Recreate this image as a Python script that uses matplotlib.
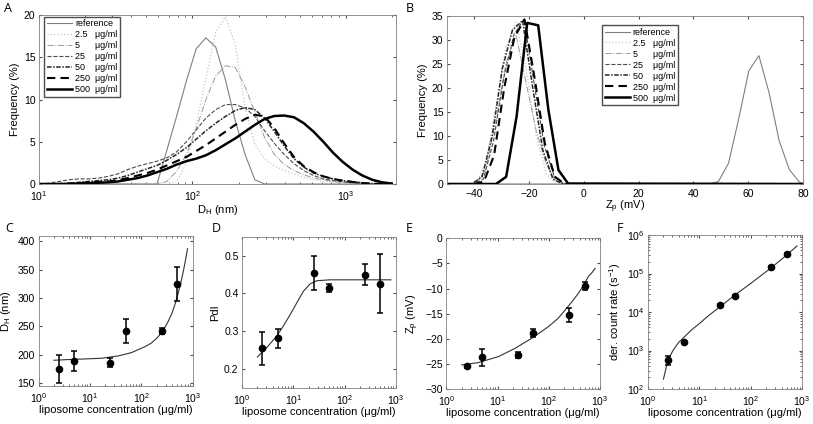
import numpy as np
import matplotlib
matplotlib.use("Agg")
import matplotlib.pyplot as plt

plt.rcParams['font.family'] = ['Liberation Sans', 'DejaVu Sans']
plt.rcParams['mathtext.default'] = 'regular'
plt.rcParams['font.size'] = 8

# [1] A: size distributions (DLS bins, nm)
d_bins = [10.1, 11.7, 13.5, 15.7, 18.2, 21.0, 24.4, 28.2, 32.7, 37.8, 43.8, 50.7, 58.8,
          68.1, 78.8, 91.3, 105.7, 122.4, 141.8, 164.2, 190.1, 220.2, 255.0, 295.3,
          342.0, 396.1, 458.7, 531.2, 615.1, 712.4, 825.0, 955.4, 1106, 1281, 1484,
          1718, 1990]
size_ref = [0, 0, 0, 0, 0, 0, 0, 0, 0, 0, 0, 0, 0,
            4.0, 8.0, 12.2, 16.0, 17.3, 16.2, 12.3, 7.5, 3.5, 0.5, 0,
            0, 0, 0, 0, 0, 0, 0, 0, 0, 0, 0, 0, 0]
size_2_5 = [0, 0, 0, 0, 0, 0, 0, 0, 0, 0, 0, 0, 0,
            0, 0.2, 2.5, 7.0, 12.5, 18.0, 19.8, 16.5, 9.0, 4.7, 3.0,
            2.1, 1.6, 1.2, 0.8, 0.5, 0.3, 0.2, 0.1, 0, 0, 0, 0, 0]
size_5 = [0, 0, 0, 0, 0, 0, 0, 0, 0, 0, 0, 0, 0,
          0.3, 1.5, 3.5, 6.5, 10.0, 12.8, 14.0, 13.8, 11.5, 8.5, 5.5,
          3.5, 2.3, 1.6, 1.1, 0.7, 0.5, 0.3, 0.2, 0.1, 0, 0, 0, 0]
size_25 = [0, 0.1, 0.3, 0.5, 0.6, 0.6, 0.7, 0.9, 1.2, 1.7, 2.1, 2.4, 2.7,
           3.1, 3.8, 5.0, 6.4, 7.8, 8.8, 9.4, 9.4, 9.0, 8.0, 6.3,
           4.8, 3.5, 2.4, 1.6, 1.0, 0.6, 0.4, 0.25, 0.15, 0.05, 0, 0, 0]
size_50 = [0, 0, 0.05, 0.1, 0.2, 0.3, 0.4, 0.5, 0.7, 1.0, 1.4, 1.8, 2.2,
           2.8, 3.5, 4.3, 5.3, 6.3, 7.2, 8.0, 8.7, 9.05, 8.8, 7.8,
           6.2, 4.5, 3.0, 2.0, 1.3, 0.9, 0.6, 0.4, 0.25, 0.15, 0.05, 0, 0]
size_250 = [0, 0, 0, 0.05, 0.1, 0.2, 0.25, 0.3, 0.45, 0.7, 1.0, 1.3, 1.7,
            2.2, 2.7, 3.2, 3.9, 4.6, 5.4, 6.2, 7.0, 7.7, 8.2, 8.0,
            6.6, 4.8, 3.2, 2.1, 1.4, 0.9, 0.6, 0.4, 0.25, 0.1, 0.05, 0, 0]
size_500 = [0, 0, 0, 0, 0.05, 0.1, 0.15, 0.2, 0.3, 0.5, 0.7, 1.0, 1.4,
            1.8, 2.3, 2.7, 3.0, 3.4, 4.0, 4.7, 5.4, 6.2, 7.0, 7.7,
            8.05, 8.1, 7.9, 7.2, 6.2, 5.0, 3.7, 2.6, 1.7, 1.0, 0.5, 0.2, 0.05]

# [2] B: zeta potential distributions (mV)
z_ref = [-50, 41.7, 45.4, 49.1, 52.8, 56.5, 60.2, 63.9, 67.6, 71.3, 75.0, 78.7, 80]
f_ref = [0, 0, 0, 0.5, 4.3, 13.5, 23.5, 26.7, 19.0, 9.0, 3.0, 0.4, 0]
z_2_5 = [-50, -39.6, -35.9, -32.2, -28.5, -24.8, -21.1, -17.4, -13.7, -10.0, 80]
f_2_5 = [0, 0, 4.0, 16.0, 28.5, 33.7, 24.0, 10.0, 2.0, 0, 0]
z_5 = [-50, -39.6, -35.9, -32.2, -28.5, -24.8, -21.1, -17.4, -13.7, -10.0, -6.3, 80]
f_5 = [0, 0, 3.0, 13.0, 25.0, 31.0, 21.0, 11.0, 4.0, 0.5, 0, 0]
z_25 = [-50, -40.4, -36.7, -33.0, -29.3, -25.6, -21.9, -18.2, -14.5, -10.8, -7.1, 80]
f_25 = [0, 0, 1.0, 9.0, 22.0, 31.0, 34.3, 21.0, 8.0, 1.5, 0, 0]
z_50 = [-50, -40.9, -37.2, -33.5, -29.8, -26.1, -22.4, -18.7, -15.0, -11.3, -7.6, 80]
f_50 = [0, 0, 1.5, 10.0, 24.0, 32.0, 34.0, 20.0, 7.0, 1.0, 0, 0]
z_250 = [-50, -40.2, -36.5, -32.8, -29.1, -25.4, -21.7, -18.0, -14.3, -10.6, -6.9, 80]
f_250 = [0, 0, 0.5, 6.0, 20.0, 30.5, 34.2, 22.0, 8.5, 1.5, 0, 0]
z_500 = [-50, -35.8, -32.1, -28.4, -24.6, -20.7, -16.7, -13.0, -9.3, -5.8, 80]
f_500 = [0, 0, 0, 1.5, 14.0, 33.5, 33.0, 15.5, 2.9, 0.1, 0]

# [3] C-F: values vs liposome concentration
conc = [2.5, 5, 25, 50, 250, 500]
dh_mean = [175, 189, 186, 242, 242, 325]
dh_err = [24, 17.5, 8, 21, 5, 29.5]
pdi_mean = [0.255, 0.281, 0.454, 0.414, 0.449, 0.426]
pdi_err = [0.043, 0.025, 0.045, 0.010, 0.028, 0.079]
zp_mean = [-25.5, -23.7, -23.2, -18.9, -15.2, -9.4]
zp_err = [0.3, 1.7, 0.6, 0.8, 1.4, 0.8]
cr_mean = [566, 1630, 15200, 26500, 150000, 320000]
cr_err = [140, 60, 600, 1200, 7000, 15000]

# fitted curves
fit_dh_x = [2.0, 3.8, 8.0, 17, 35.8, 65, 119, 160, 210, 260, 320, 393, 460, 529, 600, 662, 730, 800]
fit_dh_y = [190.4, 191.6, 192.7, 193.9, 198, 203.9, 214.4, 221, 231, 241, 255, 272, 290,
            309, 329, 347, 367, 387]
fit_pdi_x = [2.0, 3.04, 4.77, 6.4, 8.7, 11.7, 15.7, 21.2, 28.7, 52, 100, 800]
fit_pdi_y = [0.232, 0.257, 0.2875, 0.314, 0.344, 0.375, 0.4056, 0.4249, 0.4336, 0.436, 0.436, 0.436]
fit_zp_x = [2.0, 4.2, 10.4, 22, 46.5, 98, 150, 208, 280, 379, 480, 593, 700, 800]
fit_zp_y = [-25.2, -24.75, -23.55, -21.9, -19.9, -17.6, -16.0, -14.3, -12.7, -10.95, -9.3,
            -7.6, -6.8, -6.0]
fit_cr_x = [2.0, 2.3, 2.6, 3.0, 3.5, 4.0, 5.0, 7.0, 10, 15, 25, 50, 100, 250, 500, 800]
fit_cr_y = [180, 400, 650, 950, 1300, 1650, 2200, 3400, 5000, 8000, 13500, 28000, 55000,
            140000, 300000, 520000]

legend_labels = ['reference', '2.5   μg/ml', '5      μg/ml', '25    μg/ml',
                 '50    μg/ml', '250  μg/ml', '500  μg/ml']
styles = [dict(color='0.5', ls='-', lw=0.8),
          dict(color='0.78', ls=':', lw=0.9),
          dict(color='0.6', ls='-.', lw=0.7),
          dict(color='0.3', ls='--', lw=0.8),
          dict(color='0.15', ls=(0, (3, 1, 1, 1)), lw=1.1),
          dict(color='k', ls=(0, (4, 2.5)), lw=1.5),
          dict(color='k', ls='-', lw=1.8)]

W, H = 813, 424
fig = plt.figure(figsize=(W / 100, H / 100), dpi=100)


def box(l, r, t, b):
    return fig.add_axes([l / W, 1 - b / H, (r - l) / W, (b - t) / H])


def style_ax(ax):
    ax.tick_params(which='both', direction='in', top=True, right=True,
                   color='0.3', labelsize=7.5, pad=2.5)
    ax.tick_params(which='major', length=2.5)
    ax.tick_params(which='minor', length=1.5)
    for s in ax.spines.values():
        s.set_color('0.5')
        s.set_linewidth(0.6)


def letter(x, y, s):
    fig.text(x / W, 1 - y / H, s, fontsize=9, family=['Open Sans', 'DejaVu Sans'],
             va='top', ha='left')


# [4] panel A
axA = box(39, 396, 15, 184)
size_series = [size_ref, size_2_5, size_5, size_25, size_50, size_250, size_500]
for y, st, lab in zip(size_series, styles, legend_labels):
    axA.plot(d_bins, y, label=lab, **st)
axA.set_xscale('log')
axA.set_xlim(10, 2120)
axA.set_ylim(0, 20)
axA.set_yticks([0, 5, 10, 15, 20])
axA.set_xlabel('D$_H$ (nm)', labelpad=0)
axA.set_ylabel('Frequency (%)', labelpad=3)
style_ax(axA)
axA.legend(loc='upper left', bbox_to_anchor=(0.015, 0.99), fontsize=6.5, fancybox=False,
           edgecolor='0.3', framealpha=1, handlelength=2.8, labelspacing=0.22,
           borderpad=0.3, handletextpad=0.3, borderaxespad=0)

# [5] panel B
axB = box(447, 803, 15.7, 184)
zeta_series = [(z_ref, f_ref), (z_2_5, f_2_5), (z_5, f_5), (z_25, f_25),
               (z_50, f_50), (z_250, f_250), (z_500, f_500)]
for (x, y), st, lab in zip(zeta_series, styles, legend_labels):
    axB.plot(x, y, label=lab, **st)
axB.set_xlim(-50, 80)
axB.set_ylim(0, 35)
axB.set_xticks([-40, -20, 0, 20, 40, 60, 80])
axB.set_yticks(range(0, 36, 5))
axB.set_xlabel('Z$_p$ (mV)', labelpad=0)
axB.set_ylabel('Frequency (%)', labelpad=3)
style_ax(axB)
axB.legend(loc='upper left', bbox_to_anchor=(0.435, 0.945), fontsize=6.5, fancybox=False,
           edgecolor='0.3', framealpha=1, handlelength=2.8, labelspacing=0.22,
           borderpad=0.3, handletextpad=0.3, borderaxespad=0)

# [6] panels C-F
xlab = 'liposome concentration (μg/ml)'
bottom = [
    (38.5, 192.5, 235.7, 386, dh_mean, dh_err, fit_dh_x, fit_dh_y, 'D$_H$ (nm)', (145, 410), False),
    (242, 395.8, 236.7, 388, pdi_mean, pdi_err, fit_pdi_x, fit_pdi_y, 'PdI', (0.15, 0.55), False),
    (446.3, 600, 238.3, 389, zp_mean, zp_err, fit_zp_x, fit_zp_y, 'Z$_p$ (mV)', (-30, 0), False),
    (648, 802, 235, 389, cr_mean, cr_err, fit_cr_x, fit_cr_y, 'der. count rate (s$^{-1}$)', (1e2, 1e6), True),
]
for l, r, t, b, m, e, fx, fy, ylab, ylim, logy in bottom:
    ax = box(l, r, t, b)
    ax.plot(fx, fy, color='0.2', lw=0.8)
    ax.errorbar(conc, m, yerr=e, fmt='o', color='k', ms=4.5, elinewidth=1.1,
                capsize=2, capthick=1.1)
    ax.set_xscale('log')
    if logy:
        ax.set_yscale('log')
        ax.set_yticks([1e2, 1e3, 1e4, 1e5, 1e6])
    ax.set_xlim(1, 1000)
    ax.set_ylim(*ylim)
    ax.set_xticks([1, 10, 100, 1000])
    ax.set_xlabel(xlab, labelpad=0)
    ax.set_ylabel(ylab, labelpad=3)
    style_ax(ax)
    ax.tick_params(axis='x', pad=3.5)
    if ylab == 'PdI':
        ax.set_yticks([0.2, 0.3, 0.4, 0.5])
    if ylab == 'D$_H$ (nm)':
        ax.set_yticks(range(150, 401, 50))

axA.tick_params(axis='x', pad=3.5)
axB.tick_params(axis='x', pad=3.5)

letter(4, 2, 'A')
letter(406, 2, 'B')
letter(5, 222, 'C')
letter(212, 222, 'D')
letter(406, 222, 'E')
letter(617, 222, 'F')

fig.savefig('out.png', dpi=100)
